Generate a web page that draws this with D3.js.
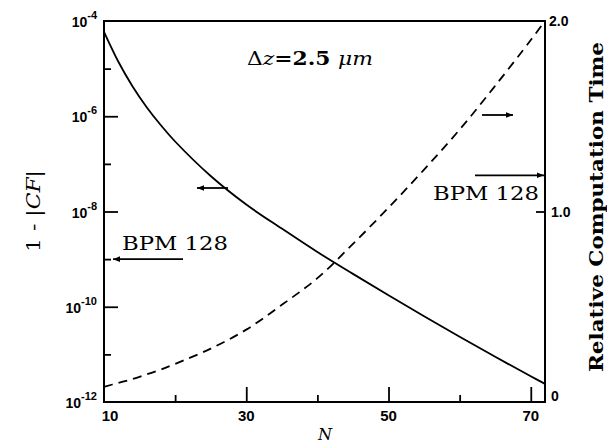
<!DOCTYPE html>
<html><head><meta charset="utf-8">
<script src="https://cdn.jsdelivr.net/npm/d3@7/dist/d3.min.js"></script>
<style>body{margin:0;background:#fff}svg{display:block}</style>
</head><body>
<script>
// ---- data ----
const N = [10,12,14,16,18,20,25,30,35,40,45,50,55,60,65,70,72];
const oneMinusCF = [5.89e-5,1.41e-5,4.27e-6,1.55e-6,6.46e-7,2.95e-7,5.56e-8,1.40e-8,4.37e-9,1.41e-9,4.90e-10,1.74e-10,6.31e-11,2.34e-11,8.91e-12,3.47e-12,2.40e-12];
const relTime = [0.08,0.10,0.12,0.145,0.17,0.20,0.28,0.38,0.51,0.65,0.83,1.02,1.22,1.43,1.66,1.90,2.0];
const xMajorTicks = [10,30,50,70];
const xMinorTicks = [20,40,60];
const leftMajorExp = [-4,-6,-8,-10,-12];
const leftMinorExp = [-5,-7,-9,-11];
const rightTicks = [1.0];
const rightLabels = [{v:2.0,t:"2.0"},{v:1.0,t:"1.0"},{v:0,t:"0"}];
const bpmCF = 1e-9;      // BPM 128 level, left axis
const bpmTime = 1.19;    // BPM 128 level, right axis

const W = 607, H = 446;
const svg = d3.select("body").append("svg").attr("width",W).attr("height",H);

const x = d3.scaleLinear().domain([10,72]).range([104,545]);
const yL = d3.scaleLog().domain([1e-12,1e-4]).range([402,21]);
const yR = d3.scaleLinear().domain([0,2]).range([402,21]);

const g = svg.append("g");

// frame
g.append("rect").attr("x",x(10)).attr("y",yL(1e-4))
  .attr("width",x(72)-x(10)).attr("height",yL(1e-12)-yL(1e-4))
  .attr("fill","none").attr("stroke","#000").attr("stroke-width",2);

function styleAxis(sel){
  sel.select(".domain").remove();
  sel.selectAll(".tick line").attr("stroke","#000").attr("stroke-width",1.8);
}
// x ticks (inward)
g.append("g").attr("transform",`translate(0,${yL(1e-12)})`)
  .call(d3.axisBottom(x).tickValues(xMajorTicks.slice(1)).tickSize(-15).tickFormat(""))
  .call(styleAxis);
g.append("g").attr("transform",`translate(0,${yL(1e-12)})`)
  .call(d3.axisBottom(x).tickValues(xMinorTicks).tickSize(-7).tickFormat(""))
  .call(styleAxis);
// left ticks
g.append("g").attr("transform",`translate(${x(10)},0)`)
  .call(d3.axisLeft(yL).tickValues(leftMajorExp.slice(1,4).map(e=>Math.pow(10,e))).tickSize(-14).tickFormat(""))
  .call(styleAxis);
g.append("g").attr("transform",`translate(${x(10)},0)`)
  .call(d3.axisLeft(yL).tickValues(leftMinorExp.map(e=>Math.pow(10,e))).tickSize(-7).tickFormat(""))
  .call(styleAxis);
// right ticks
g.append("g").attr("transform",`translate(${x(72)},0)`)
  .call(d3.axisRight(yR).tickValues(rightTicks).tickSize(-9).tickFormat(""))
  .call(styleAxis);

// x tick labels
g.selectAll(".xl").data(xMajorTicks).enter().append("text")
  .attr("x",d=>x(d)+(d===10?6:0)).attr("y",421)
  .attr("text-anchor","middle").attr("font-family","Liberation Sans, Arial, sans-serif")
  .attr("font-size",15).attr("font-weight","bold").text(d=>d);

// left tick labels with superscripts
const ll = g.selectAll(".ll").data(leftMajorExp).enter().append("text")
  .attr("x",97).attr("y",d=>yL(Math.pow(10,d))+6)
  .attr("text-anchor","end").attr("font-family","Liberation Sans, Arial, sans-serif")
  .attr("font-size",14).attr("font-weight","bold");
ll.append("tspan").text("10");
ll.append("tspan").attr("dy",-8).attr("font-size",11).text(d=>"-"+(-d));

// right tick labels
g.selectAll(".rl").data(rightLabels).enter().append("text")
  .attr("x",d=>x(72)+(d.v===2?4:6)).attr("y",d=>yR(d.v)+(d.v===0?-1:5))
  .attr("font-family","Liberation Sans, Arial, sans-serif")
  .attr("font-size",14).attr("font-weight","bold").text(d=>d.t);

// curves
const lineCF = d3.line().x((d,i)=>x(N[i])).y(d=>yL(d)).curve(d3.curveCatmullRom);
g.append("path").attr("d",lineCF(oneMinusCF)).attr("fill","none")
  .attr("stroke","#000").attr("stroke-width",1.8);
const lineT = d3.line().x((d,i)=>x(N[i])).y(d=>yR(d)).curve(d3.curveCatmullRom);
g.append("path").attr("d",lineT(relTime)).attr("fill","none")
  .attr("stroke","#000").attr("stroke-width",1.8).attr("stroke-dasharray","9,6");

// arrow markers
const defs = svg.append("defs");
defs.append("marker").attr("id","ah").attr("viewBox","0 0 10 10")
  .attr("refX",10).attr("refY",5).attr("markerWidth",9).attr("markerHeight",7)
  .attr("markerUnits","userSpaceOnUse").attr("orient","auto")
  .append("path").attr("d","M0,1 L10,5 L0,9 Z").attr("fill","#000");

function arrow(x1,y1,x2,y2){
  g.append("line").attr("x1",x1).attr("y1",y1).attr("x2",x2).attr("y2",y2)
    .attr("stroke","#000").attr("stroke-width",1.8).attr("marker-end","url(#ah)");
}
// BPM arrows
arrow(183, yL(bpmCF), 113, yL(bpmCF));
arrow(475, yR(bpmTime), x(72)-1, yR(bpmTime));
// small indicator arrows
arrow(228, 188, 197, 188);
arrow(482, 115, 513, 115);

const serif = "DejaVu Serif, Liberation Serif, serif";
g.append("text").attr("x",122).attr("y",250).attr("font-family",serif)
  .attr("font-size",19).attr("textLength",106).attr("lengthAdjust","spacingAndGlyphs").text("BPM 128");
g.append("text").attr("x",433).attr("y",200).attr("font-family",serif)
  .attr("font-size",19).attr("textLength",106).attr("lengthAdjust","spacingAndGlyphs").text("BPM 128");

// Δz annotation
const dz = g.append("text").attr("x",247).attr("y",65).attr("font-family",serif)
  .attr("font-size",18).attr("textLength",126).attr("lengthAdjust","spacingAndGlyphs");
dz.append("tspan").text("Δ");
dz.append("tspan").attr("font-style","italic").text("z");
dz.append("tspan").attr("font-weight","bold").text("=2.5 ");
dz.append("tspan").attr("font-style","italic").text("μm");

// axis titles
g.append("text").attr("x",325).attr("y",440).attr("text-anchor","middle")
  .attr("font-family",serif).attr("font-style","italic").attr("font-size",16).text("N");

const lt = g.append("text").attr("transform","translate(40,211) rotate(-90)")
  .attr("text-anchor","middle").attr("font-family",serif).attr("font-size",18)
  .attr("textLength",82).attr("lengthAdjust","spacingAndGlyphs");
lt.append("tspan").text("1 - |");
lt.append("tspan").attr("font-style","italic").text("CF");
lt.append("tspan").text("|");

g.append("text").attr("transform","translate(603,372) rotate(-90)")
  .attr("font-family",serif).attr("font-weight","bold").attr("font-size",18)
  .attr("textLength",330).attr("lengthAdjust","spacingAndGlyphs")
  .text("Relative Computation Time");
</script>
</body></html>
